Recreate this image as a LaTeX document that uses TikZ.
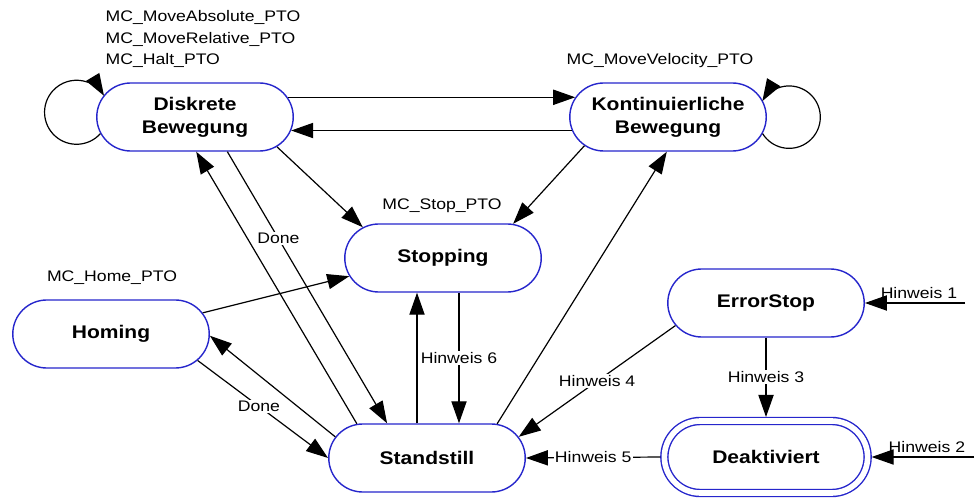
\documentclass[tikz,border=0pt]{standalone}
\usepackage{fontspec}
\setmainfont{Liberation Sans}[FakeStretch=1.15]
\usetikzlibrary{arrows.meta,shapes.misc,calc}
\definecolor{stateBlue}{RGB}{38,38,204}
\tikzset{
  state/.style={rounded rectangle,draw=stateBlue,line width=1pt,fill=white,
    minimum width=4.98cm,minimum height=1.7cm,inner sep=1pt,align=center,
    font=\fontsize{13}{16.3}\selectfont\bfseries},
  arr/.style={line width=0.85pt,-{Triangle[length=0.55cm,width=0.38cm]}},
  lbl/.style={font=\fontsize{10.9}{15.6}\selectfont,inner sep=1pt},
  onlbl/.style={lbl,fill=white}
}

\begin{document}
\begin{tikzpicture}[x=0.025cm,y=-0.025cm]
\useasboundingbox (0,0) rectangle (978,498);
% states
\node[state] (disk) at (195,117) {Diskrete\\Bewegung};
\node[state] (kont) at (668,117) {Kontinuierliche\\Bewegung};
\node[state] (stop) at (443,258) {Stopping};
\node[state] (home) at (111,334) {Homing};
\node[state] (stand) at (427,458) {Standstill};
\node[state] (err) at (766,303) {ErrorStop};
\node[state,double=white,double distance=0.14cm,minimum width=5.15cm,
  minimum height=1.8cm,outer sep=0.1cm] (deak) at (766,457) {Deaktiviert};
% commands
\node[lbl,align=left,anchor=west] (diskcmd) at (104,39)
  {MC\_MoveAbsolute\_PTO\\MC\_MoveRelative\_PTO\\MC\_Halt\_PTO};
\node[lbl] (kontcmd) at (660,61) {MC\_MoveVelocity\_PTO};
\node[lbl] (stopcmd) at (442,206) {MC\_Stop\_PTO};
\node[lbl] (homecmd) at (112,278) {MC\_Home\_PTO};
% transitions
\draw[arr] (disk.190) arc[start angle=-42,end angle=-329,radius=0.8cm];
\draw[arr] (kont.-10) arc[start angle=212,end angle=509,radius=0.78cm];
\draw[arr] (disk.12) -- (kont.168);
\draw[arr] (kont.188) -- (disk.-8);
\draw[arr] (disk.-20) -- (stop.159);
\draw[arr] (kont.199) -- (stop.26);
\draw[arr] (stand.26) -- (kont.268);
\draw[arr] (stand.154) -- (disk.272);
\draw[arr] (disk.-47) -- (stand.139) node[onlbl,pos=0.32] {Done};
\draw[arr] (home.13) -- (stop.191);
\draw[arr] (stand.167) -- (home.-1);
\draw[arr] (home.-17) -- (stand.180) node[onlbl,pos=0.47] {Done};
\draw[arr] ($(stand.north)+(-10,0)$) -- ($(stand.north |- stop.south)+(-10,0)$);
\draw[arr] ($(stop.south)+(16,0)$) -- ($(stop.south |- stand.north)+(16,0)$)
  node[onlbl,pos=0.5] {Hinweis 6};
\draw[arr] (err.194) -- (stand.13) node[onlbl,pos=0.5] {Hinweis 4};
\draw[arr] (err.south) -- (deak.north) node[onlbl,pos=0.5] {Hinweis 3};
\draw[arr] (deak.west) -- (stand.east) node[onlbl,pos=0.5] {Hinweis 5};
\coordinate (in1) at (965,303);
\coordinate (in2) at (974,457);
\draw[arr] (in1) -- (err.east) node[lbl,above=2pt,pos=0.46] {Hinweis 1};
\draw[arr] (in2) -- (deak.east) node[lbl,above=2pt,pos=0.46] {Hinweis 2};
\end{tikzpicture}
\end{document}
